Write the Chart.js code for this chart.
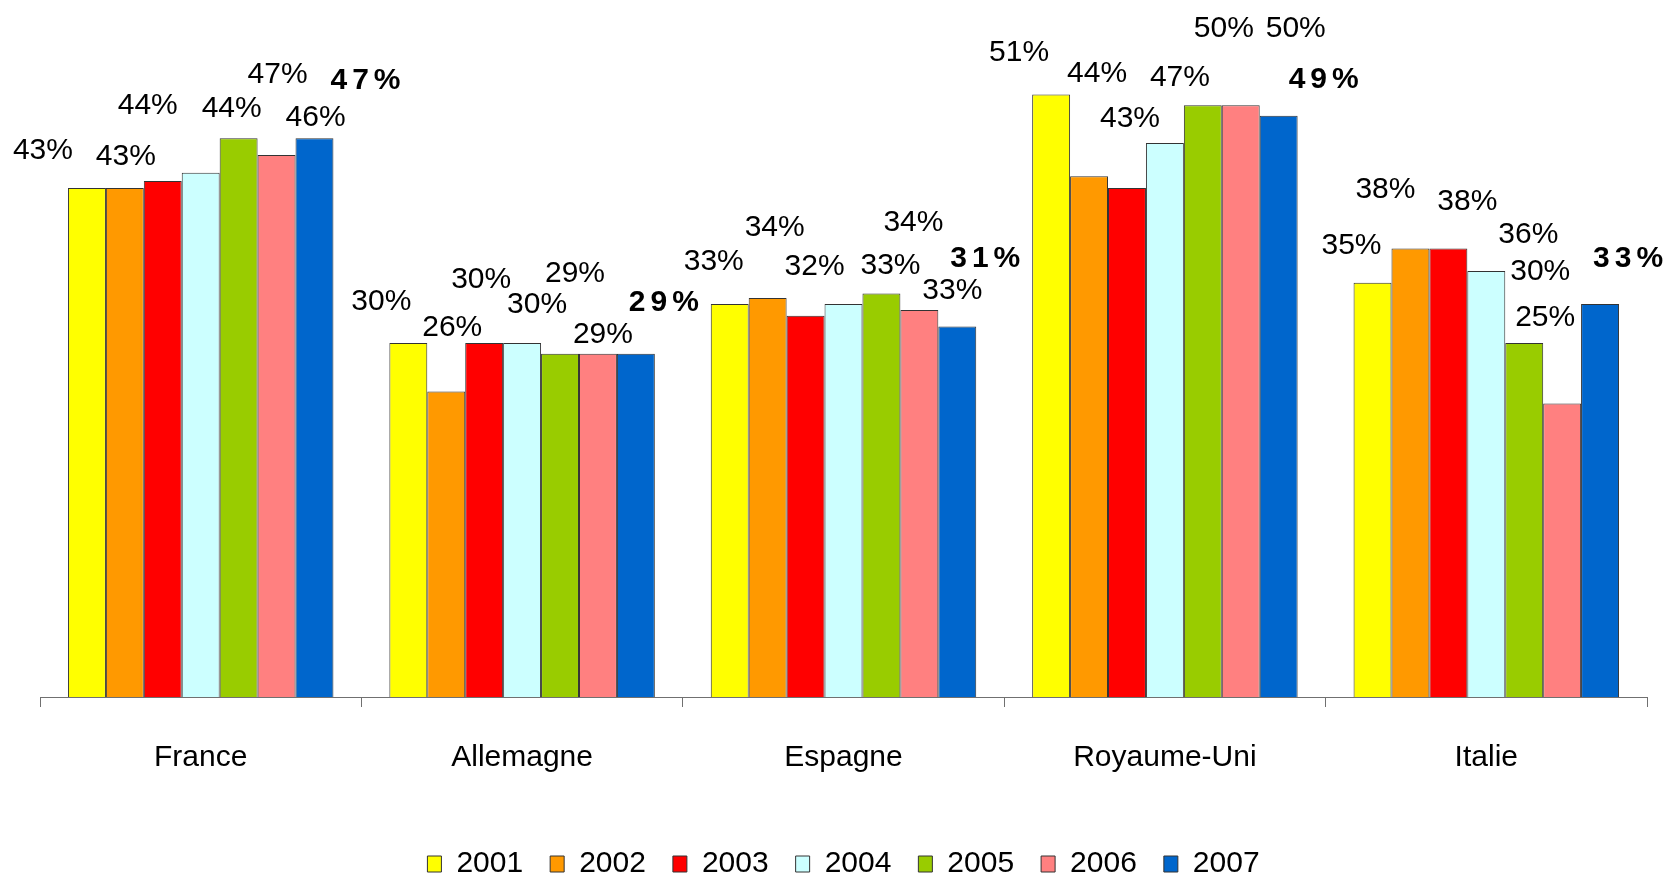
<!DOCTYPE html>
<html>
<head>
<meta charset="utf-8">
<script src="https://cdn.jsdelivr.net/npm/chart.js@4"></script>
<style>
  html, body { margin: 0; padding: 0; background: #fff; }
  #wrap { width: 1665px; height: 879px; }
</style>
</head>
<body>
<div id="wrap"><canvas id="myChart"></canvas></div>
<script>
// chart data
var categories = ['France', 'Allemagne', 'Espagne', 'Royaume-Uni', 'Italie'];
var years = ['2001', '2002', '2003', '2004', '2005', '2006', '2007'];
var v2001 = [43.0, 29.9, 33.2, 50.9, 35.0];
var v2002 = [43.0, 25.8, 33.7, 44.0, 37.9];
var v2003 = [43.6, 29.9, 32.2, 43.0, 37.9];
var v2004 = [44.3, 29.9, 33.2, 46.8, 36.0];
var v2005 = [47.2, 29.0, 34.1, 50.0, 29.9];
var v2006 = [45.8, 29.0, 32.7, 50.0, 24.8];
var v2007 = [47.2, 29.0, 31.3, 49.1, 33.2];
var seriesValues = [v2001, v2002, v2003, v2004, v2005, v2006, v2007];

var colors = ['#FFFF00', '#FF9900', '#FF0000', '#CCFFFF', '#99CC00', '#FF8080', '#0066CC'];

// label offsets from the top centre of each bar (the labels were moved by hand in the original)
var labelOffsets = [
    [[-44, -37], [-27, -41], [-16, -42], [-32, -42], [-21, -37]],
    [[1, -31], [6, -64], [7, -70], [8, -102], [-25, -59]],
    [[-15, -75], [-3, -63], [9, -49], [3, -69], [19, -47]],
    [[31, -64], [15, -38], [47, -38], [15, -65], [42, -36]],
    [[39, -64], [15, -80], [32, -71], [21, -76], [16, -71]],
    [[39, -37], [5, -19], [33, -19], [55, -76], [-17, -86]],
    [[51, -58], [28, -51], [28, -68], [45, -36], [28, -45]]
];

var FONT = "'Liberation Sans', Arial, sans-serif";

// draws the percent label over each bar
var valueLabels = {
    id: 'valueLabels',
    afterDatasetsDraw: function (chart) {
        var ctx = chart.ctx;
        ctx.save();
        ctx.fillStyle = '#000';
        ctx.textAlign = 'center';
        ctx.textBaseline = 'middle';
        chart.data.datasets.forEach(function (ds, di) {
            var meta = chart.getDatasetMeta(di);
            var last = di === chart.data.datasets.length - 1;
            meta.data.forEach(function (bar, i) {
                var off = labelOffsets[di][i];
                var txt = Math.round(ds.data[i]) + '%';
                if (last) {
                    ctx.font = 'bold 30px ' + FONT;
                    ctx.letterSpacing = '5px';
                    ctx.fillText(txt, bar.x + off[0] + 2.5, bar.y + off[1]);
                } else {
                    ctx.font = '30px ' + FONT;
                    ctx.letterSpacing = '0px';
                    ctx.fillText(txt, bar.x + off[0], bar.y + off[1]);
                }
            });
        });
        ctx.restore();
    }
};

function loadChart() {
    var datasets = years.map(function (y, i) {
        return {
            label: y,
            data: seriesValues[i],
            backgroundColor: colors[i],
            borderColor: '#333333',
            borderWidth: 1,
            barPercentage: 1,
            categoryPercentage: 0.826
        };
    });

    new Chart(document.getElementById('myChart'), {
        type: 'bar',
        data: { labels: categories, datasets: datasets },
        plugins: [valueLabels],
        options: {
            responsive: true,
            maintainAspectRatio: false,
            animation: false,
            layout: { padding: { top: 46, left: 40, right: 18, bottom: -10 } },
            plugins: {
                tooltip: { enabled: false },
                legend: {
                    position: 'bottom',
                    labels: {
                        boxWidth: 14,
                        boxHeight: 16,
                        padding: 27,
                        color: '#000',
                        font: { family: FONT, size: 30 }
                    }
                }
            },
            scales: {
                x: {
                    grid: {
                        drawOnChartArea: false,
                        drawTicks: true,
                        tickLength: 10,
                        color: '#707070'
                    },
                    border: { display: true, color: '#707070', width: 1 },
                    ticks: {
                        padding: 33,
                        color: '#000',
                        font: { family: FONT, size: 30 }
                    },
                    // extra room between the category names and the legend
                    afterFit: function (scale) { scale.height += 13; }
                },
                y: {
                    display: false,
                    min: 0,
                    max: 55
                }
            }
        }
    });
}

window.addEventListener('DOMContentLoaded', loadChart);
</script>
</body>
</html>
